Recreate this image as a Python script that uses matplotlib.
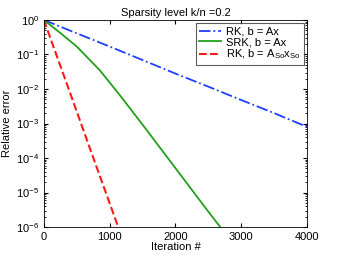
import matplotlib
matplotlib.use('Agg')
import matplotlib.pyplot as plt

plt.rcParams['font.family'] = ['Liberation Sans', 'DejaVu Sans']
plt.rcParams['mathtext.fontset'] = 'custom'
plt.rcParams['mathtext.rm'] = 'Liberation Sans'

# RK, b = Ax
rk_iter = [0, 500, 1000, 1500, 2000, 2500, 3000, 3500, 4000]
rk_err = [1.0, 4.1e-1, 1.7e-1, 6.9e-2, 2.8e-2, 1.17e-2, 4.8e-3, 2.0e-3, 8.0e-4]
# SRK, b = Ax
srk_iter = [0, 250, 500, 850, 1150, 1500, 2000, 2500, 2700]
srk_err = [1.0, 4.2e-1, 1.7e-1, 3.5e-2, 6.8e-3, 9.3e-4, 5.1e-5, 2.8e-6, 9.0e-7]
# RK, b = A_So x_So
rko_iter = [0, 200, 400, 600, 800, 1000, 1150]
rko_err = [1.0, 8.7e-2, 7.6e-3, 6.5e-4, 5.6e-5, 4.9e-6, 7.8e-7]

fig = plt.figure(figsize=(3.4, 2.56), dpi=100)
ax = fig.add_axes([0.129, 0.113, 0.774, 0.809])

ax.semilogy(rk_iter, rk_err, '-.', color='#1f3fff', lw=1.3, label='RK, b = Ax')
ax.semilogy(srk_iter, srk_err, '-', color='#22a01a', lw=1.3, label='SRK, b = Ax')
ax.semilogy(rko_iter, rko_err, '--', color='#ff1a1a', lw=1.5,
            label=r'RK, b = A$_{\mathrm{So}}$x$_{\mathrm{So}}$')

ax.set_xlim(0, 4000)
ax.set_ylim(1e-6, 1)
ax.set_xticks([0, 1000, 2000, 3000, 4000])
ax.tick_params(which='both', direction='in', top=True, right=True, labelsize=8)
ax.tick_params(which='major', length=3)
ax.tick_params(which='minor', length=1.5)
for s in ax.spines.values():
    s.set_linewidth(0.6)

ax.set_title('Sparsity level k/n =0.2', fontsize=8, pad=3)
ax.set_xlabel('Iteration #', fontsize=8, labelpad=0)
ax.set_ylabel('Relative error', fontsize=8, labelpad=3)

leg = ax.legend(loc='upper right', fontsize=8, fancybox=False, edgecolor='#333333',
                handlelength=2.0, handletextpad=0.4, borderpad=0.3,
                labelspacing=0.05, borderaxespad=0.3)
leg.get_frame().set_linewidth(0.8)

fig.savefig('out.png', dpi=100)
